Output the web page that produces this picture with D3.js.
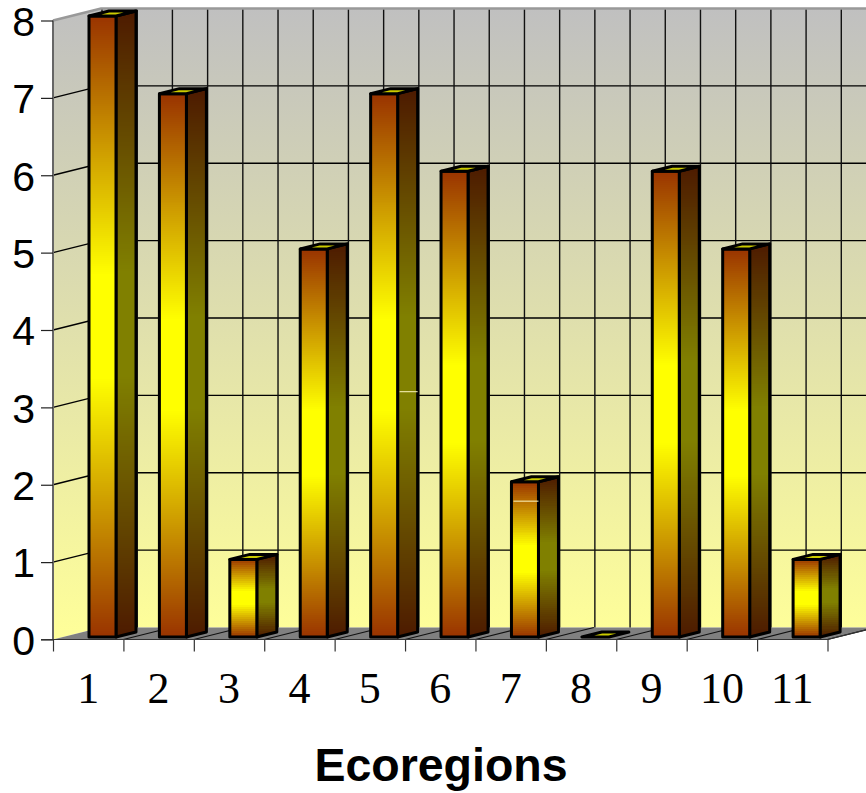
<!DOCTYPE html>
<html>
<head>
<meta charset="utf-8">
<script src="https://cdn.jsdelivr.net/npm/d3@7"></script>
<style>
	html, body { margin: 0; padding: 0; background: #fff; }
	svg { display: block; }
</style>
</head>
<body>
<svg id="chart" width="866" height="793"></svg>
<script>
const categories	= ['1', '2', '3', '4', '5', '6', '7', '8', '9', '10', '11'];
const counts		= [8, 7, 1, 5, 7, 6, 2, 0, 6, 5, 1];
const yTicks		= [0, 1, 2, 3, 4, 5, 6, 7, 8];
const xTitle		= 'Ecoregions';

// the two stray light dashes on bars 5 and 7: category, value, face
const glintCats		= ['5', '7'];
const glintValues	= [3.16, 1.75];
const glintFaces	= ['side', 'front'];

const svg	= d3.select('#chart');
const defs	= svg.append('defs');

const wallDX = 48, wallDY = 12;		// depth of the box
const barW = 27, barOff = 36;		// front face width, offset inside the band
const barDX = 20, barDY = 5;		// depth of a bar

const x		= d3.scaleBand().domain(categories).range([53, 827.5]);
const xTick	= d3.scaleLinear().domain([0, categories.length]).range([53, 827.5]);
const y		= d3.scaleLinear().domain([0, 8]).range([639.5, 20.5]);
const barY	= d3.scaleLinear().domain([0, 8]).range([637, 16]);

const left = 53, right = 827.5, back = left + wallDX;

function poly(points) { return d3.line()(points) + 'Z'; }

// walls
let wallGrad = defs.append('linearGradient').attr('id', 'wall').attr('gradientUnits', 'userSpaceOnUse')
	.attr('x1', 0).attr('x2', 0).attr('y1', y(8) - wallDY).attr('y2', y(0));
wallGrad.append('stop').attr('offset', 0).attr('stop-color', '#c0c0c0');
wallGrad.append('stop').attr('offset', 1).attr('stop-color', '#ffff99');

svg.append('path').attr('fill', 'url(#wall)')
	.attr('d', poly([[left, y(8)], [back, y(8) - wallDY], [back, y(0) - wallDY], [left, y(0)]]));
svg.append('rect').attr('fill', 'url(#wall)')
	.attr('x', back).attr('y', y(8) - wallDY).attr('width', 866 - back).attr('height', y(0) - y(8));
svg.append('path').attr('fill', '#808080')
	.attr('d', poly([[left, y(0)], [back, y(0) - wallDY], [right + wallDX, y(0) - wallDY], [right, y(0)]]));

// grid
let grid = svg.append('g').attr('fill', 'none');
yTicks.filter(d => d > 0 && d < 8).forEach(d => {
	grid.append('path').attr('stroke', '#000').attr('stroke-width', 1.4)
		.attr('d', d3.line()([[left, y(d)], [back, y(d) - wallDY], [866, y(d) - wallDY]]));
});
d3.range(0, categories.length + 0.5, 0.5).forEach(d => {
	grid.append('line').attr('stroke', '#111').attr('stroke-width', 1.4)
		.attr('x1', xTick(d) + wallDX + 1).attr('x2', xTick(d) + wallDX + 1)
		.attr('y1', y(8) - wallDY).attr('y2', y(0) - wallDY);
});
d3.range(1, categories.length + 1).forEach(d => {
	grid.append('line').attr('stroke', '#111').attr('stroke-width', 1.2)
		.attr('x1', xTick(d)).attr('x2', xTick(d) + wallDX)
		.attr('y1', y(0)).attr('y2', y(0) - wallDY);
});

// box edges
svg.append('path').attr('fill', 'none').attr('stroke', '#999').attr('stroke-width', 2.5)
	.attr('d', d3.line()([[left, y(8)], [back, y(8) - wallDY], [866, y(8) - wallDY]]));

// bars
function stepped(id, height, from, to) {
	let n		= Math.max(20, Math.round(height / 2));
	let grad	= defs.append('linearGradient').attr('id', id).attr('x1', 0).attr('x2', 0).attr('y1', 0).attr('y2', 1);
	let mix		= d3.interpolateRgb(from, to);
	for (let i = 0; i < n; i++) {
		let t	= (i + 0.5) / n;
		let c	= mix(Math.min(1, 1.2 * (1 - Math.abs(2 * t - 1))));
		grad.append('stop').attr('offset', i / n).attr('stop-color', c);
		grad.append('stop').attr('offset', (i + 1) / n).attr('stop-color', c);
	}
}

let bars = svg.append('g').attr('stroke', '#000').attr('stroke-width', 3).attr('stroke-linejoin', 'round');
categories.forEach((cat, i) => {
	let x0	= x(cat) + barOff;
	let top	= barY(counts[i]);
	let bot	= barY(0);
	let h	= bot - top;
	let g	= bars.append('g');

	if (h > 0) {
		stepped('front' + i, h, '#993300', '#ffff00');
		stepped('side' + i, h, '#4d1a00', '#808000');
		g.append('path').attr('fill', 'url(#side' + i + ')')
			.attr('d', poly([[x0 + barW, top], [x0 + barW + barDX, top - barDY], [x0 + barW + barDX, bot - barDY], [x0 + barW, bot]]));
		g.append('rect').attr('fill', 'url(#front' + i + ')')
			.attr('x', x0).attr('y', top).attr('width', barW).attr('height', h);
	}
	g.append('path').attr('fill', '#cccc00')
		.attr('d', poly([[x0, top], [x0 + barW, top], [x0 + barW + barDX, top - barDY], [x0 + barDX, top - barDY]]));
});

glintCats.forEach((cat, i) => {
	let x0	= x(cat) + barOff + (glintFaces[i] === 'side' ? barW + 2 : 2);
	let len	= glintFaces[i] === 'side' ? barDX - 2 : barW - 2;
	svg.append('line').attr('stroke', '#fff8c0').attr('stroke-width', 1)
		.attr('x1', x0).attr('x2', x0 + len).attr('y1', barY(glintValues[i])).attr('y2', barY(glintValues[i]));
});

// axes
let yAxis = svg.append('g').attr('transform', 'translate(' + left + ',0)')
	.call(d3.axisLeft(y).tickValues(yTicks).tickSize(12).tickPadding(6).tickFormat(d3.format('d')));
yAxis.selectAll('text').attr('font-family', '"Liberation Sans"').attr('font-size', 41).attr('fill', '#000').attr('dy', '0.36em');
yAxis.selectAll('line').attr('stroke', '#222').attr('stroke-width', 1.2);
yAxis.select('.domain').attr('stroke', '#666').attr('stroke-width', 2).attr('d', 'M0,' + y(8) + 'V' + y(0));

let xTicks = svg.append('g').attr('transform', 'translate(0,' + y(0) + ')')
	.call(d3.axisBottom(xTick).ticks(categories.length).tickSize(12).tickFormat(''));
xTicks.selectAll('line').attr('stroke', '#333').attr('stroke-width', 1.2);
xTicks.select('.domain').attr('stroke', '#333').attr('stroke-width', 1.2).attr('d', 'M' + (left - 12) + ',0H' + right + 'l' + wallDX + ',-' + wallDY);

let xLabels = svg.append('g').attr('transform', 'translate(0,' + y(0) + ')')
	.call(d3.axisBottom(x).tickSize(0).tickPadding(32));
xLabels.select('.domain').remove();
xLabels.selectAll('text').attr('font-family', '"Liberation Serif"').attr('font-size', 44).attr('fill', '#000');

svg.append('text').attr('x', 441).attr('y', 781).attr('text-anchor', 'middle')
	.attr('font-family', '"Liberation Sans"').attr('font-weight', 'bold').attr('font-size', 46.5)
	.text(xTitle);
</script>
</body>
</html>
